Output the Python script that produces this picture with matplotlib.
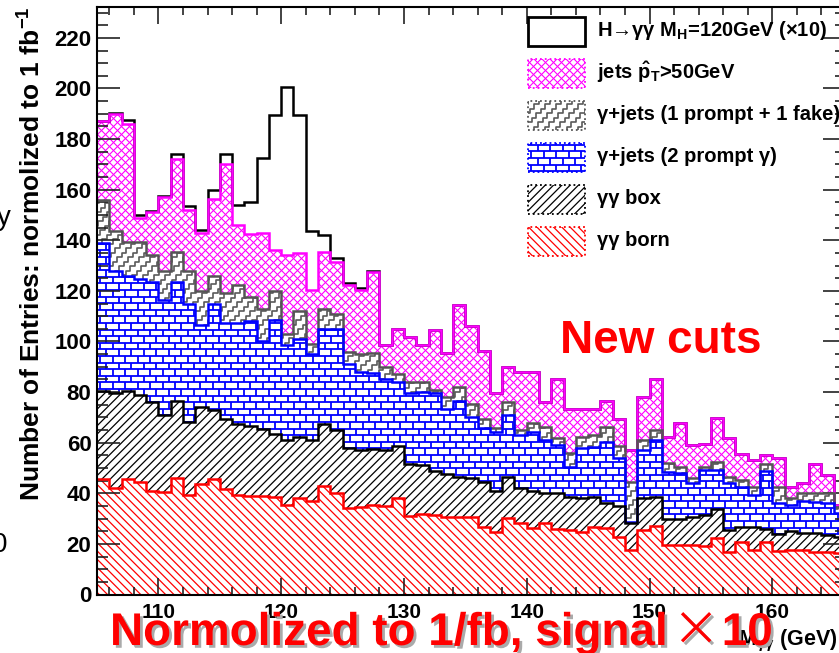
import numpy as np
import matplotlib
matplotlib.use("Agg")
import matplotlib.pyplot as plt
import matplotlib.patheffects as pe
from matplotlib.collections import LineCollection
from matplotlib.patches import Polygon, Rectangle
from matplotlib.ticker import MultipleLocator
from matplotlib.transforms import IdentityTransform

# M_gg bins, 1 GeV wide (last bin is cut by the picture edge)
mass_edges = np.arange(105, 167)

# stacked totals per bin (entries normalised to 1 fb^-1)
stack_born = [45.5, 42, 45.5, 44.5, 41, 40.5, 46, 39.5, 43.5, 45.5,
              41.5, 39.5, 39, 39, 38.5, 35.5, 38, 37, 43, 40,
              34, 34.5, 35.5, 35, 38, 31, 32, 31.5, 30.5, 30.5,
              30.8, 26.8, 24.8, 30.1, 28.1, 26.2, 28.1, 25.8, 25.5, 24.8,
              26.8, 26.2, 22.8, 17.6, 25.5, 27.1, 19.6, 19.6, 19.6, 19.2,
              22.5, 16.9, 20.9, 17.6, 20.9, 17.3, 17.6, 17.6, 16.9, 16.9,
              16.5]
stack_box = [80.5, 79.5, 80.5, 79, 76, 71, 76.5, 68, 74, 73,
             69.5, 67.5, 66.5, 65.5, 63.5, 61, 62.4, 61, 67.5, 65,
             58, 57, 57.5, 57, 58.5, 51.5, 51, 49, 47.5, 46.5,
             45.9, 44.6, 41, 46.6, 42, 41, 40, 40, 38.7, 38,
             38.7, 36.3, 35, 28.4, 38, 38.7, 30, 30, 30.5, 31.4,
             33.7, 25.5, 26.8, 26.8, 25.8, 23.9, 25.2, 24.4, 24.2, 23.5,
             22.8]
stack_2prompt = [139, 128, 126, 124.5, 123.5, 116.5, 123.5, 115, 106.5, 115,
                 107.5, 107.5, 108, 100, 108.5, 98.5, 101, 95, 105, 105,
                 91, 88, 87.5, 85, 84, 79.5, 80, 79.5, 73.5, 76.5,
                 70.3, 65.7, 64.4, 70.9, 63, 64.4, 61.1, 59.1, 50.5, 57.8,
                 58.4, 60.4, 53.8, 28.8, 57.1, 61.1, 48.5, 47.9, 44, 49.2,
                 49.2, 44, 42.6, 39.3, 48.9, 36, 35.4, 37.1, 36.7, 36,
                 32.1]
stack_1fake = [156, 143.5, 139.5, 139.5, 134, 128, 135.5, 128, 120, 126,
               119, 122.5, 117.5, 113, 120, 103, 112, 99, 113, 111,
               96, 95, 95.5, 90, 87, 84, 84, 81, 78, 82,
               75.3, 69.2, 65.7, 76.2, 65, 67.7, 66.3, 61.7, 56.1, 62.4,
               63, 66.3, 58.7, 44.6, 61.1, 65, 51.9, 50.5, 45.9, 50.5,
               52.5, 46.6, 45.3, 42.6, 51.6, 42.6, 38, 40, 40, 40,
               34.7]
stack_jets = [187, 190, 186, 149, 151, 157, 172, 152, 143, 156.5,
              170, 146, 142.5, 143, 136, 134, 135, 120.5, 135.5, 131.5,
              122.5, 120.5, 127.5, 98.6, 104.8, 101.7, 98.6, 104.5, 95.6, 114.4,
              106, 96.4, 79.8, 89.8, 88.1, 88.1, 76.2, 85.2, 73.2, 73.2,
              73.5, 76.6, 69.2, 57.1, 78.2, 85.1, 62.4, 67.7, 59.1, 59.5,
              69.6, 61.7, 55.5, 53.2, 55.1, 53.8, 42.4, 44, 51.5, 47.2,
              35.4]
stack_higgs = [187.3, 190.3, 187.5, 150, 151.5, 157.5, 174, 153.5, 144, 160,
               174, 154, 155, 172.5, 189.5, 200.5, 189.5, 143.5, 142, 133,
               123.2, 121, 128, 98.6, 104.8, 101.7, 98.6, 104.5, 95.6, 114.4,
               106, 96.4, 79.8, 89.8, 88.1, 88.1, 76.2, 85.2, 73.2, 73.2,
               73.5, 76.6, 69.2, 57.1, 78.2, 85.1, 62.4, 67.7, 59.1, 59.5,
               69.6, 61.7, 55.5, 53.2, 55.1, 53.8, 42.4, 44, 51.5, 47.2,
               35.4]

legend_labels = [r"H→γγ M$_{\mathrm{H}}$=120GeV (×10)",
                 r"jets $\hat{\mathrm{p}}_{\mathrm{T}}$>50GeV",
                 "γ+jets (1 prompt + 1 fake)",
                 "γ+jets (2 prompt γ)",
                 "γγ box",
                 "γγ born"]

W, H = 839, 653

plt.rcParams['font.family'] = ['Liberation Sans', 'DejaVu Sans']
plt.rcParams['font.weight'] = 'bold'
plt.rcParams['mathtext.fontset'] = 'custom'
plt.rcParams['mathtext.rm'] = 'Liberation Sans:bold'
plt.rcParams['mathtext.it'] = 'Liberation Sans:bold'
plt.rcParams['mathtext.bf'] = 'Liberation Sans:bold'


# ---- line textures in pixel units (ROOT style fill patterns) ----
def tex_diag(step, up):
    segs = []
    for c in np.arange(-H - step, W + H, step):
        if up:
            segs.append([(c, 0), (c + H, H)])
        else:
            segs.append([(c, H), (c + H, 0)])
    return segs


def tex_brick(h=6.6, w=12.5):
    segs = []
    for r in range(int(H / h) + 2):
        y = r * h
        segs.append([(0, y), (W, y)])
        x = (w / 2) * (r % 2)
        while x < W:
            segs.append([(x, y), (x, y + h)])
            x += w
    return segs


def tex_stairs(s=4.5, gap=11):
    segs = []
    n = int(H / s) + 2
    for c in np.arange(-H, W, gap):
        pts = []
        for k in range(n):
            pts += [(c + k * s, k * s), (c + (k + 1) * s, k * s)]
        segs.append(pts)
    return segs


def add_texture(ax, patch, segs, color, lw, z=1):
    patch.set_facecolor('none')
    patch.set_edgecolor('none')
    ax.add_patch(patch)
    lc = LineCollection(segs, colors=color, linewidths=lw,
                        transform=IdentityTransform(), zorder=z)
    ax.add_collection(lc, autolim=False)
    lc.set_clip_path(patch)


def band(lo, hi):
    e = mass_edges
    top = []
    for i in range(len(hi)):
        top += [(e[i], hi[i]), (e[i + 1], hi[i])]
    bot = []
    for i in range(len(lo) - 1, -1, -1):
        bot += [(e[i + 1], lo[i]), (e[i], lo[i])]
    return Polygon(np.array(top + bot), closed=True)


fig = plt.figure(figsize=(W / 100, H / 100), dpi=100)
ax = fig.add_axes([97 / W, 58.5 / H, (846 - 97) / W, (594.5 - 7) / H])

zeros = [0] * len(stack_born)
textures = {
    'born': (tex_diag(8.3, False), 'red', 0.9),
    'box': (tex_diag(8.3, True), 'black', 0.9),
    '2p': (tex_brick(), 'blue', 1.3),
    '1f': (tex_stairs(), '#5a5a5a', 1.2),
    'jets': (tex_diag(8, True) + tex_diag(8, False), 'magenta', 0.8),
}
layers = [(zeros, stack_born, 'born'), (stack_born, stack_box, 'box'),
          (stack_box, stack_2prompt, '2p'), (stack_2prompt, stack_1fake, '1f'),
          (stack_1fake, stack_jets, 'jets')]
for lo, hi, key in layers:
    segs, col, lw = textures[key]
    add_texture(ax, band(lo, hi), segs, col, lw)

# outlines, drawn top of stack first like THStack
for vals, col in [(stack_higgs, 'black'), (stack_jets, 'magenta'),
                  (stack_1fake, '#555555'), (stack_2prompt, 'blue'),
                  (stack_box, 'black'), (stack_born, 'red')]:
    ax.stairs(vals, mass_edges, baseline=None, color=col, lw=1.8, zorder=3)

# legend, drawn by hand
keys = [None, 'jets', '1f', '2p', 'box', 'born']
edge_cols = ['black', 'magenta', '#555555', 'blue', 'black', 'red']
for i, lab in enumerate(legend_labels):
    y_top = 17 + 42 * i
    if keys[i] is None:
        r = Rectangle((528, H - y_top - 29), 57, 29, transform=IdentityTransform(),
                      facecolor='white', edgecolor='black', lw=2, zorder=5)
        ax.add_patch(r)
    else:
        segs, col, lw = textures[keys[i]]
        r = Rectangle((528, H - y_top - 29), 57, 29, transform=IdentityTransform())
        add_texture(ax, r, segs, col, lw, z=5)
        ax.add_patch(Rectangle((528, H - y_top - 29), 57, 29, transform=IdentityTransform(),
                               facecolor='none', edgecolor=edge_cols[i], lw=1.3,
                               linestyle=':', zorder=6))
    fig.text(597 / W, 1 - (y_top + 13.5) / H, lab, fontsize=14.5, va='center', ha='left')

ax.set_xlim(105, 166)
ax.set_ylim(0, 232.2)
ax.set_xticks(np.arange(110, 161, 10))
ax.set_yticks(np.arange(0, 221, 20))
ax.xaxis.set_minor_locator(MultipleLocator(2))
ax.yaxis.set_minor_locator(MultipleLocator(5))
ax.tick_params(axis='both', which='both', direction='in', top=True, right=True,
               width=1.2, color='#222222')
ax.tick_params(axis='y', which='major', length=16.5, labelsize=16, pad=4)
ax.tick_params(axis='y', which='minor', length=8)
ax.tick_params(axis='x', which='major', length=12.5, labelsize=15, pad=6)
ax.tick_params(axis='x', which='minor', length=6)
for sp in ax.spines.values():
    sp.set_linewidth(1.5)
    sp.set_zorder(10)

fig.text(32 / W, 1 - 254 / H, r"Number of Entries: normolized to 1 fb$^{\mathrm{-1}}$",
         rotation=90, ha='center', va='center', fontsize=19)
# x title sits under the red note, so keep it inside the axes draw order
ax.text(738 / W, 1 - 645 / H, r"M$_{\gamma\gamma}$ (GeV)", fontsize=15.5,
        ha='left', va='baseline', transform=fig.transFigure, clip_on=False, zorder=1)

# bits of slide text cut by the left edge of the screenshot
fig.text(-3 / W, 1 - 218 / H, "y", fontsize=20, fontweight='normal',
         ha='left', va='center')
fig.text(-8 / W, 1 - 545 / H, "0", fontsize=20, fontweight='normal',
         ha='left', va='center')

fig.text(560 / W, 1 - 353 / H, "New cuts", color='red', fontsize=33,
         ha='left', va='baseline')

shadow = [pe.SimplePatchShadow(offset=(2, -2), shadow_rgbFace='#aaaaaa', alpha=1.0),
          pe.Normal()]
t1 = ax.text(110 / W, 8 / H, "Normolized to 1/fb, signal", color='red',
             fontsize=33, ha='left', va='baseline', path_effects=shadow,
             transform=fig.transFigure, clip_on=False, zorder=20)
t2 = ax.annotate("×", xy=(1, 8), xycoords=(t1, 'figure pixels'),
                 xytext=(4, 0), textcoords='offset pixels', color='red',
                 fontsize=34, family=['Noto Sans CJK SC', 'DejaVu Sans'],
                 fontweight='normal', ha='left', va='baseline', zorder=20,
                 annotation_clip=False, path_effects=shadow)
ax.annotate("10", xy=(1, 8), xycoords=(t2, 'figure pixels'),
            xytext=(2, 0), textcoords='offset pixels', color='red',
            fontsize=33, ha='left', va='baseline', zorder=20,
            annotation_clip=False, path_effects=shadow)

fig.savefig("out.png", dpi=100)
